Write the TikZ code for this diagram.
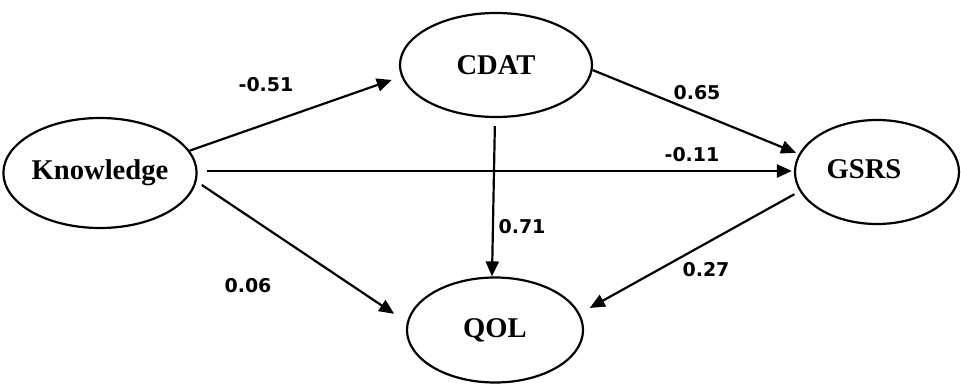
\documentclass[tikz,border=0pt]{standalone}
\usepackage{fontspec}
\setmainfont{Liberation Serif}
\newfontfamily\labfont{DejaVu Sans}
\usetikzlibrary{arrows.meta,shapes.geometric}
\tikzset{
  varfont/.style={font=\fontsize{28.6}{30}\selectfont\bfseries},
  var/.style={draw, line width=2.2pt, ellipse, inner sep=0pt, varfont},
  arr/.style={line width=2.2pt, -{Triangle[length=15pt,width=13pt]}},
  coef/.style={font=\labfont\fontsize{19}{20}\selectfont\bfseries, inner sep=0pt}
}
\begin{document}
\begin{tikzpicture}[x=1pt,y=-1pt]
\useasboundingbox[fill=white] (0,0) rectangle (961,385);
\node[var, minimum width=192pt, minimum height=110pt] (know) at (100,173) {Knowledge};
\node[var, minimum width=192pt, minimum height=104pt] (cdat) at (496,65) {CDAT};
\node[var, minimum width=164pt, minimum height=104pt, label={[varfont, xshift=-13pt, yshift=3pt]center:GSRS}] (gsrs) at (877,172) {};
\node[var, minimum width=176pt, minimum height=105pt] (qol) at (495,330) {QOL};

\draw[arr, shorten >=10pt] (know.14.8) -- (cdat.187.2);
\draw[arr, shorten <=9pt, shorten >=2pt] ([yshift=2pt]know.east) -- ([yshift=1pt]gsrs.west);
\draw[arr, shorten <=6.3pt, shorten >=15.2pt] (know.-5.1) -- (qol.175.7);
\draw[arr, shorten >=3pt] (cdat.-3) -- (gsrs.167);
\draw[arr, shorten <=8pt] ([xshift=-1pt]cdat.south) -- ([xshift=-3pt]qol.north);
\draw[arr, shorten <=6pt, shorten >=11.5pt] (gsrs.194.3) -- (qol.11.9);

\node[coef] (c1) at (266,85) {-0.51};
\node[coef] (c2) at (697,93) {0.65};
\node[coef] (c3) at (692,155) {-0.11};
\node[coef] (c4) at (522,227) {0.71};
\node[coef] (c5) at (248,286) {0.06};
\node[coef] (c6) at (706,270) {0.27};
\end{tikzpicture}
\end{document}
